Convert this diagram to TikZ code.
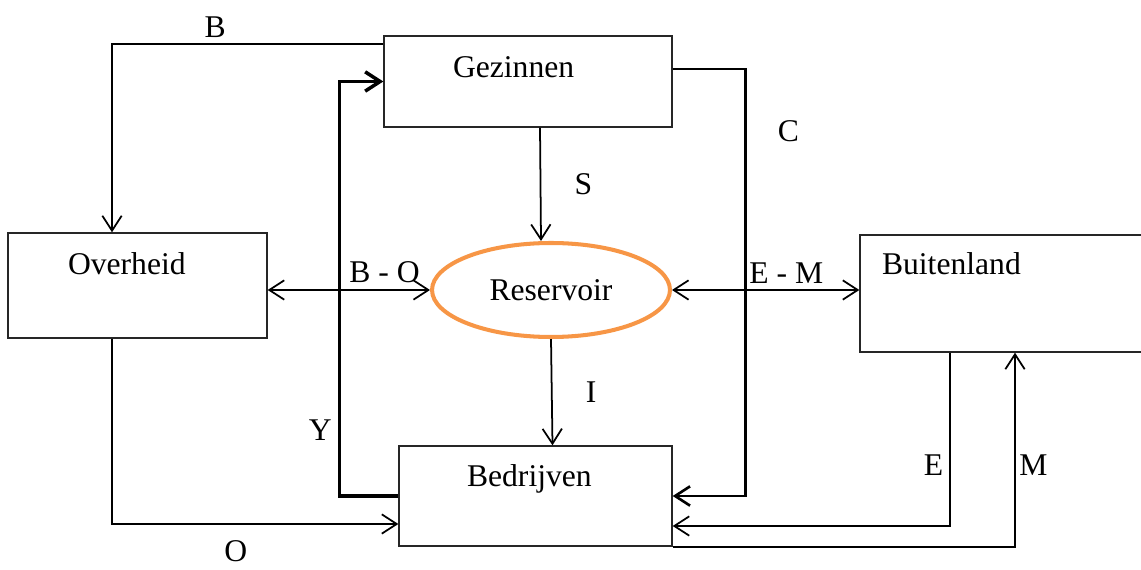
\documentclass[tikz,border=0pt]{standalone}
\usepackage{fontspec}
\setmainfont{Liberation Serif}
\usepackage{tikz}
\usetikzlibrary{
  shapes.geometric,
  arrows.meta,
  positioning,
  calc
}
\definecolor{resorange}{HTML}{F79646}
\tikzset{
  sector/.style={
    rectangle, draw=black!85, line width=0.8pt, inner sep=0pt,
    align=left, text height=0.5cm, font=\fontsize{18}{21}\selectfont
  },
  reservoir/.style={
    ellipse, draw=resorange, line width=2.3pt, inner sep=0pt,
    minimum width=4.76cm, minimum height=1.88cm,
    font=\fontsize{18}{21}\selectfont
  },
  flow/.style={-{Straight Barb[length=8.5pt, width=11pt]}, line width=1pt},
  dualflow/.style={{Straight Barb[length=8.5pt, width=11pt]}-{Straight Barb[length=8.5pt, width=11pt]}, line width=1pt},
  lbl/.style={font=\fontsize{18}{21}\selectfont},
}

\begin{document}
\begin{tikzpicture}[x=0.02cm, y=-0.02cm]
\useasboundingbox (0,0) rectangle (1141,570);
\clip (0,0) rectangle (1141,570);

% Sectors
\node[sector, minimum height=1.82cm, inner xsep=1.38cm, text width=3.0cm, text depth=0.66cm] (gez) at (528,81.5) {Gezinnen};
\node[sector, minimum height=2.1cm, inner xsep=1.2cm, text width=2.78cm, text depth=0.94cm] (ovh) at (137.5,285.5) {Overheid};
\node[sector, minimum height=2.0cm, inner xsep=1.36cm, text width=2.74cm, text depth=0.88cm] (bed) at (535.5,496) {Bedrijven};
\node[sector, minimum height=2.34cm, inner xsep=0.44cm, text width=5.12cm, text depth=1.26cm] (buit) at (1010,293.5) {Buitenland};
\node[reservoir] (res) at (551,290) {Reservoir};

% Flows around Gezinnen
\draw[flow] ([yshift=-0.18cm]gez.north west) -| ([xshift=-0.51cm]ovh.north) node[lbl, pos=0.31, above] {B};
\draw[flow, line width=2pt] (bed.west) -- ++(-1.18cm,0) |- (gez.west) node[lbl, pos=0.08, left] {Y};
\draw[flow, line width=1.5pt] ([yshift=0.25cm]gez.east) -- ++(1.46cm,0) |- (bed.east) node[lbl, pos=0.073, right=0.5cm] {C};

% Savings and investment
\draw[flow] ([xshift=0.24cm]gez.south) -- ([xshift=-0.2cm]res.north) node[lbl, midway, right=0.55cm] {S};
\draw[flow] (res.south) -- ([xshift=0.34cm]bed.north) node[lbl, midway, right=0.55cm] {I};

% Reservoir balances
\draw[dualflow] (ovh.east |- res.west) -- (res.west) node[lbl, pos=0.72, above] {B - O};
\draw[dualflow] (res.east) -- (buit.west |- res.east) node[lbl, pos=0.61, above] {E - M};

% Overheid and Buitenland
\draw[flow] ([xshift=-0.51cm]ovh.south) |- ([yshift=-0.56cm]bed.west) node[lbl, pos=0.716, below=0.2cm] {O};
\draw[flow] ([xshift=-1.2cm]buit.south) |- ([yshift=-0.6cm]bed.east) node[lbl, pos=0.325, left] {E};
\draw[flow] (bed.south east) -| ([xshift=0.1cm]buit.south) node[lbl, pos=0.709, right, inner xsep=2pt] {M};

\end{tikzpicture}
\end{document}
